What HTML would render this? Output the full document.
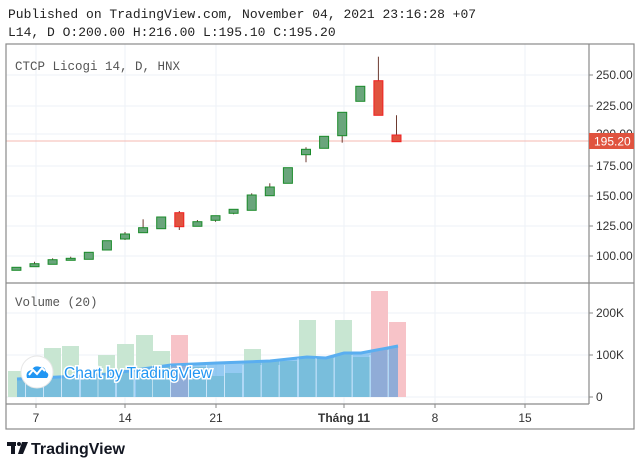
<!DOCTYPE html>
<html><head><meta charset="utf-8"><style>
body{margin:0;background:#fff;width:640px;height:467px;overflow:hidden}
svg{display:block}
</style></head><body>
<svg width="640" height="467" xmlns="http://www.w3.org/2000/svg" font-family="Liberation Sans, sans-serif">
<text x="8" y="18" font-family="Liberation Mono, monospace" font-size="13" fill="#222">Published on TradingView.com, November 04, 2021 23:16:28 +07</text>
<text x="8" y="36" font-family="Liberation Mono, monospace" font-size="13" fill="#222">L14, D O:200.00 H:216.00 L:195.10 C:195.20</text>
<g stroke="#eef2f7" stroke-width="1">
<line x1="36" y1="44" x2="36" y2="404"/><line x1="125" y1="44" x2="125" y2="404"/><line x1="216" y1="44" x2="216" y2="404"/><line x1="344" y1="44" x2="344" y2="404"/><line x1="435" y1="44" x2="435" y2="404"/><line x1="525" y1="44" x2="525" y2="404"/>
<line x1="6" y1="75" x2="589" y2="75"/><line x1="6" y1="106" x2="589" y2="106"/><line x1="6" y1="134" x2="589" y2="134"/><line x1="6" y1="166" x2="589" y2="166"/><line x1="6" y1="196" x2="589" y2="196"/><line x1="6" y1="226" x2="589" y2="226"/><line x1="6" y1="256" x2="589" y2="256"/>
<line x1="6" y1="313" x2="589" y2="313"/><line x1="6" y1="355" x2="589" y2="355"/><line x1="6" y1="397" x2="589" y2="397"/>
</g>
<line x1="6" y1="141" x2="589" y2="141" stroke="#f4b8b0" stroke-width="1"/>
<text x="15" y="70" font-family="Liberation Mono, monospace" font-size="12.5" fill="#555">CTCP Licogi 14, D, HNX</text>
<text x="15" y="306" font-family="Liberation Mono, monospace" font-size="12.5" fill="#555">Volume (20)</text>
<g>
<rect x="8" y="371" width="17" height="26" fill="#c8e6d2"/>
<rect x="26" y="365" width="17" height="32" fill="#c8e6d2"/>
<rect x="44" y="348" width="17" height="49" fill="#c8e6d2"/>
<rect x="62" y="346" width="17" height="51" fill="#c8e6d2"/>
<rect x="81" y="372" width="17" height="25" fill="#c8e6d2"/>
<rect x="98" y="355" width="17" height="42" fill="#c8e6d2"/>
<rect x="117" y="344" width="17" height="53" fill="#c8e6d2"/>
<rect x="136" y="335" width="17" height="62" fill="#c8e6d2"/>
<rect x="153" y="351" width="17" height="46" fill="#c8e6d2"/>
<rect x="171" y="335" width="17" height="62" fill="#f7c3c8"/>
<rect x="189" y="367" width="17" height="30" fill="#c8e6d2"/>
<rect x="207" y="376" width="17" height="21" fill="#c8e6d2"/>
<rect x="225" y="373" width="17" height="24" fill="#c8e6d2"/>
<rect x="244" y="349" width="17" height="48" fill="#c8e6d2"/>
<rect x="262" y="361" width="17" height="36" fill="#c8e6d2"/>
<rect x="280" y="361" width="17" height="36" fill="#c8e6d2"/>
<rect x="299" y="320" width="17" height="77" fill="#c8e6d2"/>
<rect x="317" y="357" width="17" height="40" fill="#c8e6d2"/>
<rect x="335" y="320" width="17" height="77" fill="#c8e6d2"/>
<rect x="353" y="357" width="17" height="40" fill="#c8e6d2"/>
<rect x="371" y="291" width="17" height="106" fill="#f7c3c8"/>
<rect x="389" y="322" width="17" height="75" fill="#f7c3c8"/>
</g>
<polygon points="17,379 100,375 171,365 217,363 270,361 307,357 326,358 344,353 361,353 398,346 398,397 17,397" fill="rgba(41,150,230,0.5)"/>
<polyline points="17,379 100,375 171,365 217,363 270,361 307,357 326,358 344,353 361,353 398,346" fill="none" stroke="#5aaef0" stroke-width="3"/>
<g stroke="rgba(255,255,255,0.5)" stroke-width="1">
<line x1="25.5" y1="365" x2="25.5" y2="397"/><line x1="43.5" y1="365" x2="43.5" y2="397"/><line x1="61.5" y1="365" x2="61.5" y2="397"/><line x1="80" y1="365" x2="80" y2="397"/><line x1="98" y1="365" x2="98" y2="397"/><line x1="116" y1="365" x2="116" y2="397"/><line x1="134" y1="365" x2="134" y2="397"/><line x1="152.5" y1="365" x2="152.5" y2="397"/><line x1="170.5" y1="365" x2="170.5" y2="397"/><line x1="188.5" y1="365" x2="188.5" y2="397"/><line x1="206.5" y1="365" x2="206.5" y2="397"/><line x1="224.5" y1="365" x2="224.5" y2="397"/><line x1="243" y1="365" x2="243" y2="397"/><line x1="261" y1="365" x2="261" y2="397"/><line x1="279" y1="365" x2="279" y2="397"/><line x1="298" y1="358" x2="298" y2="397"/><line x1="316" y1="358" x2="316" y2="397"/><line x1="334" y1="358" x2="334" y2="397"/><line x1="352" y1="355" x2="352" y2="397"/><line x1="370" y1="355" x2="370" y2="397"/><line x1="388" y1="350" x2="388" y2="397"/>
</g>
<circle cx="37" cy="372" r="16" fill="#fff" stroke="#e6e6e6"/>
<path d="M27,378 q-2,-7 5,-8 q2,-5 8,-3 q5,-1 6,5 q4,2 1,6 z" fill="#2196f3"/>
<polyline points="29,375 33,370 37,374 42,368 45,371" fill="none" stroke="#fff" stroke-width="2"/>
<text x="64" y="378" font-size="15.5" fill="#2196f3" stroke="#fff" stroke-width="3" paint-order="stroke">Chart by TradingView</text>
<g stroke-width="1">
<g stroke="#6d3a30">
<line x1="34.5" y1="261.7" x2="34.5" y2="265"/><line x1="52.6" y1="258.3" x2="52.6" y2="262"/><line x1="70.7" y1="256.7" x2="70.7" y2="259"/><line x1="125" y1="232" x2="125" y2="240"/><line x1="143.1" y1="219.3" x2="143.1" y2="230"/><line x1="179.3" y1="211" x2="179.3" y2="230"/><line x1="197.4" y1="220" x2="197.4" y2="224"/><line x1="215.5" y1="216" x2="215.5" y2="221.7"/><line x1="233.6" y1="210" x2="233.6" y2="214.3"/><line x1="251.7" y1="193.3" x2="251.7" y2="200"/><line x1="269.8" y1="183.3" x2="269.8" y2="190"/><line x1="306" y1="147.3" x2="306" y2="162.3"/><line x1="342.2" y1="120" x2="342.2" y2="142.7"/><line x1="378.4" y1="56.7" x2="378.4" y2="90"/><line x1="396.5" y1="115.3" x2="396.5" y2="140"/>
</g>
<g fill="#6aa57c" stroke="#1a8a2a">
<rect x="11.9" y="267.3" width="9" height="3"/>
<rect x="30" y="263.7" width="9" height="3"/>
<rect x="48.1" y="259.7" width="9" height="4.6"/>
<rect x="66.2" y="258.3" width="9" height="2"/>
<rect x="84.3" y="252.3" width="9" height="7"/>
<rect x="102.4" y="240.7" width="9" height="9.3"/>
<rect x="120.5" y="234" width="9" height="5"/>
<rect x="138.6" y="227.7" width="9" height="5"/>
<rect x="156.7" y="217" width="9" height="11.7"/>
<rect x="192.9" y="221.7" width="9" height="4.6"/>
<rect x="211" y="215.7" width="9" height="4.6"/>
<rect x="229.1" y="209.3" width="9" height="4"/>
<rect x="247.2" y="195" width="9" height="15.3"/>
<rect x="265.3" y="187" width="9" height="8.7"/>
<rect x="283.4" y="167.7" width="9" height="15.6"/>
<rect x="301.5" y="149.3" width="9" height="5.4"/>
<rect x="319.6" y="136.3" width="9" height="12"/>
<rect x="337.7" y="112.3" width="9" height="23.4"/>
<rect x="355.8" y="86.3" width="9" height="15"/>
</g>
<g fill="#e0533f" stroke="#f02020">
<rect x="174.8" y="212.7" width="9" height="14"/>
<rect x="373.9" y="80.7" width="9" height="34.6"/>
<rect x="392" y="135" width="9" height="6.7"/>
</g>
</g>
<g stroke="#8a8a8a" stroke-width="1.2" fill="none">
<rect x="6" y="44" width="628" height="385"/>
<line x1="6" y1="283" x2="634" y2="283"/>
<line x1="6" y1="404" x2="589" y2="404"/>
<line x1="589" y1="44" x2="589" y2="404"/>
</g>
<g stroke="#8a8a8a">
<line x1="589" y1="75" x2="593" y2="75"/><line x1="589" y1="106" x2="593" y2="106"/><line x1="589" y1="166" x2="593" y2="166"/><line x1="589" y1="196" x2="593" y2="196"/><line x1="589" y1="226" x2="593" y2="226"/><line x1="589" y1="256" x2="593" y2="256"/>
<line x1="589" y1="313" x2="593" y2="313"/><line x1="589" y1="355" x2="593" y2="355"/><line x1="589" y1="397" x2="593" y2="397"/>
<line x1="36" y1="404" x2="36" y2="408"/><line x1="125" y1="404" x2="125" y2="408"/><line x1="216" y1="404" x2="216" y2="408"/><line x1="344" y1="404" x2="344" y2="408"/><line x1="435" y1="404" x2="435" y2="408"/><line x1="525" y1="404" x2="525" y2="408"/>
</g>
<g font-size="12" fill="#333">
<text x="596" y="79">250.00</text><text x="596" y="110">225.00</text><text x="596" y="138">200.00</text><text x="596" y="170">175.00</text><text x="596" y="200">150.00</text><text x="596" y="230">125.00</text><text x="596" y="260">100.00</text>
<text x="596" y="317">200K</text><text x="596" y="359">100K</text><text x="596" y="401">0</text>
</g>
<rect x="589" y="133" width="45" height="16" fill="#e0533f"/>
<text x="594" y="145.5" font-size="12" fill="#fff">195.20</text>
<g font-size="12" fill="#333" text-anchor="middle">
<text x="36" y="422">7</text><text x="125" y="422">14</text><text x="216" y="422">21</text><text x="344" y="422" font-weight="bold">Tháng 11</text><text x="435" y="422">8</text><text x="525" y="422">15</text>
</g>
<g fill="#131722">
<rect x="7" y="442" width="9" height="4"/><rect x="11" y="442" width="4" height="12"/>
<circle cx="19" cy="444" r="2"/>
<polygon points="22,442 28,442 23,454 18,454"/>
</g>
<text x="31" y="454" font-size="16" font-weight="bold" fill="#131722">TradingView</text>
</svg>
</body></html>
